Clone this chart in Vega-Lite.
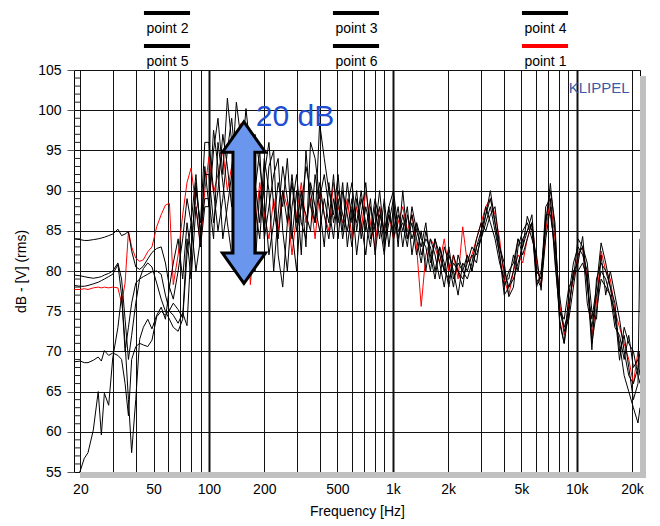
{
"$schema": "https://vega.github.io/schema/vega-lite/v6.json",
"width": 566, "height": 402,
"autosize": {"type": "none"},
"padding": {"left": 74, "top": 70, "right": 20, "bottom": 54},
"background": "white",
"config": {"font": "Liberation Sans", "view": {"stroke": "#000", "strokeWidth": 1}},
"resolve": {"axis": {"y": "independent"}},
"datasets": {
"ladder": [{"v":56},{"v":57},{"v":58},{"v":59},{"v":61},{"v":62},{"v":63},{"v":64},{"v":66},{"v":67},{"v":68},{"v":69},{"v":71},{"v":72},{"v":73},{"v":74},{"v":76},{"v":77},{"v":78},{"v":79},{"v":81},{"v":82},{"v":83},{"v":84},{"v":86},{"v":87},{"v":88},{"v":89},{"v":91},{"v":92},{"v":93},{"v":94},{"v":96},{"v":97},{"v":98},{"v":99},{"v":101},{"v":102},{"v":103},{"v":104}]
},
"data": {"values": [
{"f":18.5,"p1":77.7,"p2":84.0,"p3":79.5,"p4":78.2,"p5":68.7,"p6":53.5},
{"f":20,"p1":77.7,"p2":83.9,"p3":79.4,"p4":78.1,"p5":68.8,"p6":55.2},
{"f":21,"p1":77.8,"p2":83.8,"p3":79.3,"p4":78.1,"p5":68.6,"p6":56.7},
{"f":22,"p1":77.7,"p2":83.8,"p3":79.2,"p4":78.2,"p5":68.6,"p6":57.4},
{"f":23.5,"p1":77.9,"p2":83.9,"p3":79.1,"p4":78.4,"p5":68.9,"p6":60.2},
{"f":25,"p1":78.0,"p2":84.0,"p3":79.2,"p4":78.6,"p5":69.3,"p6":65.0},
{"f":26,"p1":77.9,"p2":84.1,"p3":79.3,"p4":78.8,"p5":68.8,"p6":59.6},
{"f":27,"p1":78.0,"p2":84.2,"p3":79.5,"p4":79.0,"p5":70.1,"p6":64.8},
{"f":28.5,"p1":77.9,"p2":84.4,"p3":79.7,"p4":79.3,"p5":69.5,"p6":63.3},
{"f":30,"p1":78.0,"p2":84.6,"p3":80.0,"p4":79.6,"p5":69.8,"p6":69.2},
{"f":32,"p1":77.9,"p2":85.2,"p3":81.0,"p4":80.8,"p5":69.5,"p6":73.0},
{"f":33.5,"p1":76.0,"p2":84.4,"p3":79.0,"p4":77.0,"p5":69.0,"p6":77.0},
{"f":35,"p1":78.5,"p2":84.6,"p3":74.0,"p4":70.0,"p5":66.0,"p6":71.0},
{"f":36.5,"p1":84.9,"p2":84.9,"p3":69.0,"p4":73.0,"p5":62.0,"p6":64.0},
{"f":38,"p1":83.0,"p2":82.5,"p3":72.0,"p4":76.0,"p5":69.0,"p6":57.4},
{"f":40,"p1":81.6,"p2":80.5,"p3":76.0,"p4":78.5,"p5":70.6,"p6":64.0},
{"f":42,"p1":81.2,"p2":80.2,"p3":79.0,"p4":79.0,"p5":71.0,"p6":71.5},
{"f":44,"p1":81.4,"p2":80.6,"p3":80.3,"p4":79.3,"p5":70.8,"p6":73.0},
{"f":46.5,"p1":82.4,"p2":81.5,"p3":81.0,"p4":79.6,"p5":70.6,"p6":74.0},
{"f":49,"p1":83.0,"p2":82.3,"p3":80.5,"p4":79.9,"p5":71.4,"p6":72.8},
{"f":52,"p1":85.5,"p2":82.8,"p3":78.5,"p4":80.0,"p5":74.3,"p6":74.5},
{"f":55,"p1":87.0,"p2":83.0,"p3":76.5,"p4":79.6,"p5":75.0,"p6":75.5},
{"f":58,"p1":88.2,"p2":81.0,"p3":75.0,"p4":77.0,"p5":74.5,"p6":74.0},
{"f":61,"p1":88.4,"p2":78.0,"p3":74.0,"p4":75.0,"p5":75.1,"p6":78.0},
{"f":64,"p1":78.3,"p2":76.5,"p3":73.0,"p4":74.5,"p5":76.0,"p6":81.0},
{"f":68,"p1":82.0,"p2":80.0,"p3":72.5,"p4":73.5,"p5":75.2,"p6":84.0},
{"f":72,"p1":87.0,"p2":84.0,"p3":74.0,"p4":74.8,"p5":74.2,"p6":79.0},
{"f":76,"p1":91.0,"p2":89.0,"p3":82.0,"p4":73.2,"p5":84.0,"p6":86.0},
{"f":80,"p1":92.8,"p2":86.0,"p3":86.0,"p4":83.0,"p5":79.0,"p6":82.0},
{"f":85,"p1":88.0,"p2":92.0,"p3":80.0,"p4":90.0,"p5":88.0,"p6":91.0},
{"f":90,"p1":83.0,"p2":84.0,"p3":84.0,"p4":86.0,"p5":83.0,"p6":85.0},
{"f":95,"p1":90.0,"p2":93.0,"p3":92.0,"p4":96.0,"p5":88.0,"p6":89.0},
{"f":100,"p1":94.2,"p2":88,"p3":92,"p4":96,"p5":88,"p6":89},
{"f":106,"p1":89.7,"p2":95,"p3":86,"p4":90,"p5":97.5,"p6":84},
{"f":112,"p1":92,"p2":99,"p3":90,"p4":85,"p5":93,"p6":96},
{"f":119,"p1":95,"p2":92,"p3":97,"p4":89,"p5":84,"p6":91},
{"f":126,"p1":90,"p2":101.5,"p3":93,"p4":95,"p5":88,"p6":86},
{"f":133,"p1":93,"p2":96,"p3":88,"p4":99,"p5":92,"p6":82},
{"f":141,"p1":97,"p2":90,"p3":94,"p4":92,"p5":101,"p6":87},
{"f":150,"p1":98.4,"p2":93,"p3":86,"p4":88,"p5":96,"p6":92},
{"f":159,"p1":90,"p2":100.2,"p3":91,"p4":84,"p5":89,"p6":95},
{"f":168,"p1":78.3,"p2":95,"p3":96,"p4":90,"p5":83,"p6":88},
{"f":178,"p1":85,"p2":88,"p3":90,"p4":97,"p5":91,"p6":80},
{"f":189,"p1":91,"p2":84,"p3":95,"p4":93,"p5":86,"p6":90},
{"f":200,"p1":87,"p2":92,"p3":84,"p4":89,"p5":94,"p6":85},
{"f":212,"p1":84,"p2":96,"p3":88,"p4":82,"p5":90,"p6":93},
{"f":225,"p1":89,"p2":88,"p3":92,"p4":86,"p5":80,"p6":95},
{"f":238,"p1":85,"p2":84,"p3":94,"p4":91,"p5":87,"p6":82},
{"f":252,"p1":90,"p2":90,"p3":85,"p4":88,"p5":93,"p6":78},
{"f":267,"p1":88,"p2":86,"p3":80,"p4":94,"p5":89,"p6":86},
{"f":283,"p1":82,"p2":91,"p3":88,"p4":85,"p5":84,"p6":92},
{"f":300,"p1":87,"p2":85,"p3":92,"p4":80,"p5":90,"p6":86},
{"f":318,"p1":91,"p2":88,"p3":86,"p4":89,"p5":82,"p6":90},
{"f":337,"p1":86,"p2":93,"p3":84,"p4":87,"p5":95,"p6":83},
{"f":357,"p1":89,"p2":90,"p3":91,"p4":85,"p5":88,"p6":96},
{"f":378,"p1":84,"p2":86,"p3":88,"p4":92,"p5":86,"p6":94},
{"f":400,"p1":90,"p2":98.4,"p3":85,"p4":88,"p5":91,"p6":89},
{"f":424,"p1":87,"p2":94,"p3":89,"p4":83,"p5":87,"p6":92},
{"f":449,"p1":85,"p2":90,"p3":86,"p4":91,"p5":84,"p6":88},
{"f":476,"p1":91,"p2":87,"p3":92,"p4":86,"p5":89,"p6":84},
{"f":504,"p1":88,"p2":92,"p3":84,"p4":89,"p5":86,"p6":90},
{"f":534,"p1":86,"p2":85,"p3":90,"p4":84,"p5":91,"p6":87},
{"f":566,"p1":89,"p2":91,"p3":87,"p4":88,"p5":83,"p6":85},
{"f":600,"p1":84,"p2":86,"p3":83,"p4":91,"p5":88,"p6":89},
{"f":636,"p1":88,"p2":90,"p3":89,"p4":85,"p5":86,"p6":82},
{"f":673,"p1":85,"p2":84,"p3":86,"p4":89,"p5":90,"p6":87},
{"f":713,"p1":90,"p2":88,"p3":82,"p4":86,"p5":85,"p6":91},
{"f":756,"p1":86,"p2":85,"p3":88,"p4":83,"p5":89,"p6":84},
{"f":801,"p1":83,"p2":89,"p3":85,"p4":88,"p5":82,"p6":86},
{"f":848,"p1":88,"p2":86,"p3":90,"p4":84,"p5":87,"p6":88},
{"f":899,"p1":85,"p2":82,"p3":84,"p4":89,"p5":85,"p6":83},
{"f":952,"p1":87,"p2":88,"p3":87,"p4":83,"p5":88,"p6":86},
{"f":1009,"p1":84,"p2":90,"p3":85,"p4":88,"p5":84,"p6":89},
{"f":1069,"p1":86,"p2":85,"p3":88,"p4":84,"p5":87,"p6":83},
{"f":1133,"p1":88,"p2":86,"p3":83,"p4":87,"p5":85,"p6":90},
{"f":1200,"p1":85,"p2":83,"p3":87,"p4":84,"p5":88,"p6":84},
{"f":1271,"p1":87,"p2":88,"p3":84,"p4":86,"p5":82,"p6":87},
{"f":1347,"p1":83,"p2":85,"p3":86,"p4":82,"p5":86,"p6":84},
{"f":1427,"p1":75.6,"p2":83,"p3":82,"p4":85,"p5":84,"p6":81},
{"f":1512,"p1":82,"p2":86,"p3":84,"p4":80,"p5":83,"p6":85},
{"f":1602,"p1":84,"p2":81,"p3":83,"p4":84,"p5":80,"p6":82},
{"f":1697,"p1":83,"p2":84,"p3":80,"p4":82,"p5":84,"p6":79},
{"f":1798,"p1":81,"p2":82,"p3":83,"p4":79,"p5":81,"p6":83},
{"f":1905,"p1":84,"p2":80,"p3":81,"p4":83,"p5":78,"p6":80},
{"f":2018,"p1":80,"p2":83,"p3":78,"p4":81,"p5":82,"p6":79},
{"f":2138,"p1":82,"p2":79,"p3":82,"p4":78,"p5":80,"p6":81},
{"f":2265,"p1":79,"p2":81,"p3":80,"p4":82,"p5":77,"p6":80},
{"f":2400,"p1":85.5,"p2":80,"p3":79,"p4":80,"p5":81,"p6":78},
{"f":2543,"p1":81,"p2":82,"p3":81,"p4":79,"p5":80,"p6":82},
{"f":2694,"p1":82,"p2":80,"p3":83,"p4":81,"p5":82,"p6":80},
{"f":2854,"p1":84,"p2":83,"p3":82,"p4":84,"p5":81,"p6":83},
{"f":3024,"p1":86,"p2":85,"p3":84,"p4":86,"p5":85,"p6":84},
{"f":3204,"p1":88,"p2":87,"p3":86,"p4":85,"p5":88,"p6":87},
{"f":3394,"p1":89,"p2":90,"p3":88,"p4":87,"p5":86,"p6":89},
{"f":3596,"p1":87,"p2":86,"p3":85,"p4":88,"p5":84,"p6":86},
{"f":3810,"p1":84,"p2":83,"p3":82,"p4":83,"p5":81,"p6":82},
{"f":4037,"p1":79,"p2":80,"p3":78,"p4":81,"p5":79,"p6":77},
{"f":4277,"p1":77,"p2":78,"p3":80,"p4":76.8,"p5":79,"p6":78},
{"f":4531,"p1":80,"p2":79,"p3":81,"p4":78,"p5":82,"p6":80},
{"f":4801,"p1":82,"p2":81,"p3":84,"p4":83,"p5":80,"p6":84},
{"f":5086,"p1":81,"p2":83,"p3":82,"p4":85,"p5":84,"p6":83},
{"f":5389,"p1":84,"p2":86.8,"p3":84,"p4":86,"p5":85,"p6":85},
{"f":5709,"p1":86,"p2":85,"p3":86,"p4":84,"p5":86,"p6":87},
{"f":6049,"p1":81,"p2":80,"p3":79,"p4":82,"p5":78,"p6":80},
{"f":6408,"p1":78,"p2":79,"p3":78,"p4":77.6,"p5":80,"p6":79},
{"f":6789,"p1":85,"p2":86,"p3":84,"p4":87,"p5":86,"p6":88},
{"f":7193,"p1":89,"p2":90.9,"p3":88,"p4":87,"p5":90,"p6":89},
{"f":7621,"p1":84,"p2":85,"p3":82,"p4":83,"p5":86,"p6":81},
{"f":8074,"p1":76,"p2":75,"p3":74,"p4":77,"p5":73.5,"p6":75},
{"f":8554,"p1":72,"p2":73,"p3":71,"p4":72.5,"p5":71,"p6":74},
{"f":9062,"p1":76,"p2":75,"p3":77,"p4":74,"p5":75,"p6":78},
{"f":9601,"p1":79,"p2":80,"p3":81,"p4":78,"p5":80,"p6":79},
{"f":10172,"p1":82,"p2":81,"p3":83,"p4":82,"p5":80,"p6":84},
{"f":10777,"p1":83,"p2":84.3,"p3":82,"p4":83,"p5":81,"p6":83},
{"f":11418,"p1":79,"p2":78,"p3":80,"p4":76,"p5":79,"p6":81},
{"f":12097,"p1":72,"p2":74,"p3":71,"p4":73,"p5":70.2,"p6":75},
{"f":12816,"p1":76,"p2":78,"p3":75,"p4":77,"p5":79,"p6":74},
{"f":13578,"p1":82.5,"p2":83.5,"p3":79,"p4":80,"p5":81,"p6":82},
{"f":14385,"p1":80,"p2":81,"p3":78,"p4":79,"p5":80,"p6":77},
{"f":15240,"p1":79,"p2":78,"p3":77,"p4":76.8,"p5":78,"p6":80},
{"f":16146,"p1":75,"p2":76,"p3":73,"p4":75,"p5":74,"p6":77},
{"f":17106,"p1":73,"p2":70,"p3":72,"p4":68.9,"p5":71,"p6":74},
{"f":18123,"p1":71,"p2":72,"p3":69,"p4":73,"p5":67,"p6":70},
{"f":19201,"p1":69,"p2":68,"p3":72,"p4":71,"p5":65,"p6":67},
{"f":20342,"p1":66,"p2":64,"p3":68,"p4":70,"p5":63,"p6":66},
{"f":21551,"p1":70,"p2":66,"p3":69,"p4":67,"p5":61.1,"p6":68},
{"f":22100,"p1":68,"p2":84,"p3":67,"p4":66,"p5":63,"p6":70}
]},
"layer": [
{
"data": {"values": [{}]},
"mark": {"type": "rect", "color": "#c0c0c0"},
"encoding": {
"x": {"datum": 22100, "type": "quantitative"},
"x2": {"datum": 23824},
"y": {"datum": 104.25, "type": "quantitative", "axis": null},
"y2": {"datum": 54.25}
}
},
{
"data": {"values": [{}]},
"mark": {"type": "rect", "color": "#c0c0c0"},
"encoding": {
"x": {"datum": 19.9, "type": "quantitative"},
"x2": {"datum": 23824},
"y": {"datum": 55, "type": "quantitative", "axis": null},
"y2": {"datum": 54.25}
}
},
{
"data": {"name": "ladder"},
"mark": {"type": "rule", "color": "#222", "strokeWidth": 1},
"encoding": {
"x": {"datum": 18.46, "type": "quantitative"},
"x2": {"datum": 20},
"y": {"field": "v", "type": "quantitative", "axis": null}
}
},
{
"transform": [{"fold": ["p1", "p2", "p3", "p4", "p5", "p6"], "as": ["series", "dB"]}],
"mark": {"type": "line", "clip": true, "strokeWidth": 1},
"encoding": {
"x": {"field": "f", "type": "quantitative",
"scale": {"type": "log", "domain": [18.46, 22100], "nice": false},
"axis": {"title": "Frequency [Hz]",
"values": [20,30,40,50,60,70,80,90,100,200,300,400,500,600,700,800,900,1000,2000,3000,4000,5000,6000,7000,8000,9000,10000,20000],
"labelExpr": "indexof([20,50,100,200,500,1000,2000,5000,10000,20000], datum.value) >= 0 ? (datum.value >= 1000 ? (datum.value/1000) + 'k' : datum.value + '') : ''",
"grid": true, "gridColor": "#111", "gridOpacity": 1,
"gridWidth": {"condition": {"test": "indexof([100,1000,10000], datum.value) >= 0", "value": 2}, "value": 1},
"ticks": false, "domain": false, "labelFontSize": 14, "labelColor": "#000", "labelPadding": 10,
"labelFlush": false, "labelOverlap": false,
"titleFontSize": 14, "titleFontWeight": "normal", "titleColor": "#000", "titlePadding": 8}},
"y": {"field": "dB", "type": "quantitative",
"scale": {"domain": [55, 105], "nice": false, "zero": false},
"axis": {"orient": "left", "title": "dB - [V]  (rms)",
"values": [55,60,65,70,75,80,85,90,95,100,105],
"grid": true, "gridColor": "#111", "gridOpacity": 1,
"tickSize": 7, "tickColor": "#555", "domain": false, "labelFontSize": 14, "labelColor": "#000", "labelPadding": 6,
"labelOverlap": false, "labelFlush": false,
"titleFontSize": 14, "titleFontWeight": "normal", "titleColor": "#000", "titlePadding": 9}},
"color": {"field": "series", "type": "nominal",
"scale": {"domain": ["p2", "p3", "p4", "p5", "p6", "p1"], "range": ["#000", "#000", "#000", "#000", "#000", "#ff0000"]},
"legend": {"title": null, "orient": "none", "legendX": 86, "legendY": -64, "direction": "horizontal", "columns": 3,
"symbolType": "M-5,0L5,0", "symbolSize": 85, "symbolStrokeWidth": 4, "labelFontSize": 14, "labelColor": "#000",
"labelAlign": "center", "labelOffset": -6.6, "columnPadding": 125, "rowPadding": 2, "padding": 0,
"labelExpr": "'point ' + substring(datum.label, 1)",
"encode": {"labels": {"update": {"dy": {"value": 16}}}}}}
}
},
{
"data": {"values": [{}]},
"mark": {"type": "point", "shape": "M0,-1L0.266,-0.625L0.136,-0.625L0.136,0.625L0.266,0.625L0,1L-0.266,0.625L-0.136,0.625L-0.136,-0.625L-0.266,-0.625Z",
"size": 26050, "filled": true, "fill": "#6A96EE", "stroke": "#000", "strokeWidth": 3, "opacity": 1, "fillOpacity": 1, "strokeOpacity": 1},
"encoding": {"x": {"datum": 155, "type": "quantitative"}, "y": {"datum": 88.5, "type": "quantitative", "axis": null}}
},
{
"data": {"values": [{}]},
"mark": {"type": "text", "text": "20 dB", "align": "left", "baseline": "alphabetic", "fontSize": 30, "color": "#1F4ED0"},
"encoding": {"x": {"datum": 180, "type": "quantitative"}, "y": {"datum": 98.07, "type": "quantitative", "axis": null}}
},
{
"data": {"values": [{}]},
"mark": {"type": "text", "text": "KLIPPEL", "align": "right", "baseline": "alphabetic", "fontSize": 15, "color": "#3A5AA5"},
"encoding": {"x": {"datum": 19400, "type": "quantitative"}, "y": {"datum": 102.1, "type": "quantitative", "axis": null}}
}
]
}
